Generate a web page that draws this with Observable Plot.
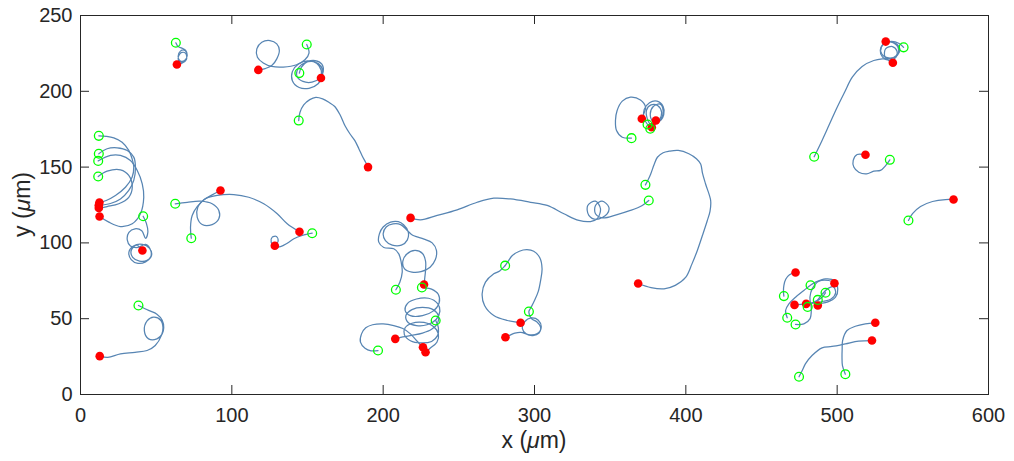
<!DOCTYPE html>
<html>
<head>
<meta charset="utf-8">
<script src="https://cdn.jsdelivr.net/npm/d3@7"></script>
<script src="https://cdn.jsdelivr.net/npm/@observablehq/plot@0.6"></script>
<style>
  html, body { margin: 0; padding: 0; background: #ffffff; }
  #chart svg { display: block; }
</style>
</head>
<body>
<div id="chart"></div>
<script>
// ---------- axis ticks ----------
const xTicks = [0, 100, 200, 300, 400, 500, 600];
const yTicks = [0, 50, 100, 150, 200, 250];

// ---------- cell trajectories (x, y in µm) ----------
const trackA = [[38.3,58.7],[45,55.5],[50.5,53],[54,49],[55,44],[54,40],[50.5,36.7],[45,36.7],[42.2,42],[44,48.5],[48.3,51],[53,49],[54.5,44],[53.5,39],[49.4,32.3],[44,29],[36,27.8],[26.4,26.8],[18,24.5],[12.7,25.3]];
const trackB = [[63,232],[64.5,229.5],[67,228.5],[69.5,227],[70.5,224],[69,220.5],[66,220],[64.5,223],[66,226.5],[69,227],[70.5,223.5],[68.5,220],[65.5,219.5],[64.5,222],[66.5,225.5],[69.5,225],[70,221],[67,218.5],[63.7,217.7]];
const trackC = [[117.5,214.1],[122,215],[126.4,217],[129.7,221.4],[131.4,227],[129.7,231.3],[125.2,233.5],[119.8,232.4],[116.5,228],[116.9,222.5],[120.8,218.7],[126.4,216.4],[134,216],[142.8,217.5],[148.3,220.8],[151,225.2],[149.5,230.9]];
const trackD = [[144.6,212],[146,216],[150,219.5],[155,220.3],[159.5,218],[160.4,213],[158,208.5],[153,206],[147,206.5],[143,210],[144,215.5],[148.5,219],[154.5,219.5],[159,216.5],[160,211],[157,205],[151,202],[144.5,202.5],[140,207],[140,213],[144,218],[150,220],[156,218.5],[159,214],[158.9,208.8]];
const trackE = [[144.2,180.7],[145,186],[147.5,191],[151.5,194.5],[155.5,196],[160,195],[164.5,192.5],[168,190],[171.5,184.5],[174.7,177.4],[178,172],[181.3,167.5],[184,162],[186,157.7],[188.5,153],[190,150]];
const trackF1 = [[12.1,170.6],[17,170.3],[22,169.3],[27.5,166.4],[31.9,161],[34.1,155.5],[35.2,150],[34.1,143.3],[29.7,136.7],[23.1,131.3],[17,128],[12.5,126.6]];
const trackF2 = [[12.1,158.8],[17.6,162.1],[24.2,162.7],[30.9,161],[35.2,156.6],[36.3,150],[35.2,141.2],[31.9,134.6],[26.4,129],[19.8,126],[12.1,124.8]];
const trackF3 = [[11.7,154.1],[19.8,157.7],[26.4,157.7],[33,154.4],[37.5,147.8],[40.8,139],[41.8,130.1],[39.6,119.2],[34.2,112.6],[26.4,110.8],[18.7,113.7],[12.6,117.4]];
const trackF4 = [[11.7,143.8],[17.6,147.3],[26.4,148.2],[31.9,144.5],[34.2,136.7],[31.9,130.1],[25.3,125.8],[17.6,124],[12.1,123]];
const trackF5 = [[41.4,117.6],[43.5,113],[44.5,107],[43,103],[40.5,108],[36,109.3],[32,107],[30.9,102],[33,98],[38,97],[43,99],[46,96],[46.5,91],[43,87.5],[38,86.5],[33.5,89],[32,94],[35,98],[41,99],[45.5,96.5],[47,92],[44,88.5],[39,88],[34.5,90.5],[33.5,95],[37,98.5],[40.9,95]];
const trackG1 = [[62.6,125.8],[70.5,126.8],[79.3,127.5],[87,125.8],[91.4,121.4],[91.4,115.9],[87,112.1],[80.4,112.1],[77.1,117],[77.5,123.5],[81.5,128.4],[87,131.7],[92.5,134.6]];
const trackG2 = [[73.2,103.1],[72.7,110.4],[73.8,118.1],[77.1,124],[82.6,129.1],[90.3,131.3],[101.3,131.9],[111.2,130.1],[121.1,125.8],[130,119.2],[136.6,112.6],[144.7,107.3]];
const trackG3 = [[153.1,106.4],[146.5,104.9],[141,102.7],[136.6,99.8],[132.2,97.6],[128.4,97.2],[126,100.5],[126.7,103.8],[129.5,104.2],[130.6,101.1],[128.4,98.1]];
const trackH = [[218.1,116.5],[224.7,115.2],[235.7,118.1],[248.9,121.8],[262.1,126.8],[273.1,129.5],[284.1,129],[297.4,126.8],[308.4,124.7],[319.4,119.2],[329.3,114.8],[337,114.1],[341.4,115.9],[343.6,122.5],[340.3,127.5],[335.2,124.7],[335.9,118.1],[341,115.5],[348,119.2],[349.1,123.6],[344.7,127.5],[340.3,124.7],[340.3,119.2],[344.7,116.5],[354.6,118.7],[363.4,121.4],[371.2,124.7],[375.5,128]];
const trackI = [[373.3,138.3],[375,141.5],[376.8,145.5],[379,151.5],[381.2,156.5],[385,159.5],[389,160.5],[395,161],[402,158.8],[407,155.5],[409.8,152],[411,146],[413,139],[416.4,128],[416,121],[414.2,114.8],[411,105],[407.6,95],[404,86],[400,77.4],[393,72],[385.6,69.7],[377,70.5],[368.5,73.2]];
const trackJ1 = [[364.1,169.1],[358,169.7],[354.2,174.1],[353.5,180.7],[354.6,187.3],[358,193.5],[363.4,196.1],[370,194.3],[373.4,189.5],[372.2,185.2],[370.9,181.9]];
const trackJ2 = [[374.7,178.1],[372.3,182.5],[372.5,188],[376,192.5],[381,193.5],[385,190],[385.4,184.5],[382,180],[378,180.5],[376.5,185],[378.5,190],[383,191.5],[385,187],[383.5,182],[380.2,180.7]];
const trackJ3 = [[376.5,175.3],[379,177.5],[382.5,181],[384,186],[381.5,190.5],[377,191],[374,187.5],[374.5,182],[377.5,176.3]];
const trackK1 = [[208.4,69.1],[211,74.1],[212.6,80.7],[211.9,87.3],[210.3,92.8],[207,96.1],[200.4,97],[197.1,100.5],[197.5,106],[200,110.5],[204.9,113.7],[210,114],[213.5,112],[216.5,107.5],[216,102],[212,98.5],[206,98.5],[201.5,101.5],[200,106],[202,110.5],[206.5,112.5],[211.5,112.1],[215.9,108.2],[219.5,105],[222.4,104],[227,102.5],[232.4,100],[235.2,95],[234.5,89],[231,84],[225,81],[219,80.7],[214,83],[213,88],[215.5,92.5],[221,95],[226,93],[228,88],[228,82],[227.5,77],[227,72.6]];
const trackK2 = [[196.6,29],[192,28.8],[188,30.5],[185,34.5],[185.7,40],[188.5,44],[193,46],[200,46.6],[207,45.5],[213,43.5],[218,40],[222,35.6],[226.3,31.2]];
const trackK3 = [[208,36.7],[213,38],[219,39],[226,40.5],[232,43],[236,47],[236.5,52],[233,56],[226,57.5],[219,56],[215,52],[216.5,47.5],[222,45.5],[229,46],[235,49.5],[237.5,55],[236,60],[230,63.5],[222,63],[216,60],[214.5,55.5],[218,52],[226,52],[233,55],[237,60.5],[236.5,66],[232,69.5],[227,70.5],[225.6,70.6]];
const trackK4 = [[234.7,48.8],[236.5,44],[236,39],[232,35],[225,34],[218,35.5],[214,39.5],[214.5,44],[219,47],[227,47.5],[233,45],[236.5,40],[235.5,34.5],[231,30.5],[228,27.9]];
const trackL1 = [[280.6,85],[277,81.5],[273.1,79.6],[267.6,74.1],[265.4,66.4],[267,58.7],[273.1,52.1],[282,48.8],[290.8,47.3]];
const trackL2 = [[280.6,85],[283,88.5],[285.2,91.5],[290,94.5],[295,95.5],[299.5,94.5],[303.5,90.2],[305,83],[304,75],[302.5,68],[300,62],[297.5,57],[296.3,54.7],[298,50],[301.5,48],[304,44.5],[303,40.5],[299,38.9],[294.5,40],[292,43.5],[293.5,48],[298,50.5],[302.5,49],[304.4,44],[301.5,40],[296,39.5],[291,41],[287,40.5],[283.5,39],[280.8,37.8]];
const trackM1 = [[484.8,156.8],[489,165.4],[494.5,177.4],[500,189.5],[504.9,199.4],[510,209.3],[516.5,216.4],[524.2,220.3],[529.8,221.4],[535.5,221.5],[540,224],[541.4,228],[538.6,231.7],[533,232.4],[529.1,229],[529.5,224.5],[534,222],[539,223.5],[540.5,228],[537,232],[532.1,232.8]];
const trackM2 = [[543.9,229],[541,231.5],[536,233],[531,231.5],[528.5,227],[530,222.5],[534,220.5],[538.5,222],[539.5,226.5],[536.5,229.5],[532,228],[531.5,223],[534.5,220],[536.8,218.8]];
const trackN = [[518.7,158.1],[513.2,158.3],[510.6,154.4],[511,150],[514.3,146.6],[519.4,145.5],[524.2,147.3],[528.6,147.8],[532,151],[534.8,154.8]];
const trackO = [[547.1,114.8],[549.8,119.3],[555.1,124],[563,127.3],[571.6,128.6],[576.9,128.6]];
const trackP1 = [[505.4,13.4],[503.5,19],[503.2,24.6],[503.3,30],[503.6,35.6],[506.5,42.2],[512,45],[518.6,46.6],[525.2,47.3]];
const trackP2 = [[474.8,11.7],[477,16],[479,20.2],[483.4,25.7],[490,30.8],[496.6,31.7],[505.4,33.4],[514.2,35.2],[523,35.6]];
const trackQ1 = [[472.5,80.5],[468.5,79],[466,76],[464.8,72],[464.5,68],[464.8,64.9]];
const trackQ2 = [[467,50.6],[465.9,55.4],[468.1,59.8],[472.5,64.2],[478,68.6],[482.4,72.1],[485.7,74.1],[492.3,76.3],[498.2,75.2],[500.4,69.6],[498.9,64.2],[493.4,60.9],[487.9,59.8],[487.2,58.7]];
const trackQ3 = [[472.5,46.2],[478,46.6],[482,49.9],[482.9,56.5],[482,64.2],[483.5,69.7],[487.9,74.7],[494.5,75.2],[498.2,73.4]];
const trackQ4 = [[492.3,67.1],[490.1,64.2],[484.6,60.9],[480.2,59.8],[476,59.5],[471.8,59.1]];
const trackQ5 = [[487.2,62.4],[490,66],[494,70],[497.5,71],[499,67],[496,63],[491,61.5],[486,60.5],[481.5,60]];

// ---------- start (green, open) and end (red, filled) positions ----------
const startPoints = [[63,232],[149.5,230.9],[144.6,212],[144.2,180.7],[12.1,170.6],[12.1,158.8],[11.7,154.1],[11.7,143.8],[41.4,117.6],[62.6,125.8],[73.2,103.1],[153.1,106.4],[38.3,58.7],[208.4,69.1],[225.6,70.6],[234.7,48.8],[196.6,29],[280.6,85],[296.3,54.7],[364.1,169.1],[374.7,178.1],[376.5,175.3],[373.3,138.3],[375.5,128],[484.8,156.8],[543.9,229],[534.8,154.8],[547.1,114.8],[474.8,11.7],[505.4,13.4],[464.8,64.9],[482.4,72.1],[492.3,67.1],[487.2,62.4],[467,50.6],[472.5,46.2],[480.5,57.8]];
const endPoints = [[63.7,217.7],[117.5,214.1],[158.9,208.8],[190,150],[12.5,126.6],[12.1,124.8],[12.1,123],[12.6,117.4],[40.9,95],[92.5,134.6],[144.7,107.3],[128.4,98.1],[12.7,25.3],[218.1,116.5],[227,72.6],[208,36.7],[226.3,31.2],[228,27.9],[290.8,47.3],[280.8,37.8],[370.9,181.9],[380.2,180.7],[377.5,176.3],[368.5,73.2],[532.1,232.8],[536.8,218.8],[518.7,158.1],[576.9,128.6],[525.2,47.3],[523,35.6],[472.5,80.5],[498.2,73.4],[471.8,59.1],[479.5,59.8],[487.2,58.7]];

// ---------- build ----------
const tracks = [trackA, trackB, trackC, trackD, trackE, trackF1, trackF2, trackF3, trackF4, trackF5,
  trackG1, trackG2, trackG3, trackH, trackI, trackJ1, trackJ2, trackJ3, trackK1, trackK2, trackK3, trackK4,
  trackL1, trackL2, trackM1, trackM2, trackN, trackO, trackP1, trackP2, trackQ1, trackQ2, trackQ3, trackQ4, trackQ5];
const lineRows = tracks.flatMap((t, i) => t.map(([x, y]) => ({x, y, id: i})));

const W = 1014, H = 461;
const mL = 80, mR = 26, mT = 15, mB = 67;
const frameW = W - mL - mR, frameH = H - mT - mB;
const tickLen = 9;
const axisColor = "#262626";
const lineColor = "#5785b3";

const chart = Plot.plot({
  width: W, height: H,
  marginLeft: mL, marginRight: mR, marginTop: mT, marginBottom: mB,
  x: {domain: [0, 600], ticks: xTicks, tickSize: 0, tickPadding: 13, label: null},
  y: {domain: [0, 250], ticks: yTicks, tickSize: 0, tickPadding: 8, label: null},
  style: {fontFamily: "'Liberation Sans', Arial, Helvetica, sans-serif", fontSize: "20px", color: axisColor, background: "#ffffff"},
  marks: [
    Plot.line(lineRows, {x: "x", y: "y", z: "id", stroke: lineColor, strokeWidth: 1.25, curve: "catmull-rom"}),
    Plot.dot(endPoints, {x: d => d[0], y: d => d[1], r: 4.3, fill: "#ff0000", stroke: "none"}),
    Plot.dot(startPoints, {x: d => d[0], y: d => d[1], r: 4.4, fill: "none", stroke: "#00ff00", strokeWidth: 1.3}),
    Plot.tickX(xTicks, {x: d => d, insetTop: frameH - tickLen, stroke: axisColor}),
    Plot.tickX(xTicks, {x: d => d, insetBottom: frameH - tickLen, stroke: axisColor}),
    Plot.tickY(yTicks, {y: d => d, insetRight: frameW - tickLen, stroke: axisColor}),
    Plot.tickY(yTicks, {y: d => d, insetLeft: frameW - tickLen, stroke: axisColor}),
    Plot.frame({stroke: axisColor, strokeWidth: 1})
  ]
});

const svg = d3.select(chart);
const xl = svg.append("text")
  .attr("x", mL + frameW / 2).attr("y", H - 13)
  .attr("text-anchor", "middle").attr("fill", axisColor)
  .style("font-size", "23px").style("font-family", "'Liberation Sans', Arial, sans-serif");
xl.append("tspan").text("x (");
xl.append("tspan").attr("font-style", "italic").text("μ");
xl.append("tspan").text("m)");
const yl = svg.append("text")
  .attr("transform", `translate(30,${mT + frameH / 2}) rotate(-90)`)
  .attr("text-anchor", "middle").attr("fill", axisColor)
  .style("font-size", "23px").style("font-family", "'Liberation Sans', Arial, sans-serif");
yl.append("tspan").text("y (");
yl.append("tspan").attr("font-style", "italic").text("μ");
yl.append("tspan").text("m)");

document.getElementById("chart").appendChild(chart);
</script>
</body>
</html>
